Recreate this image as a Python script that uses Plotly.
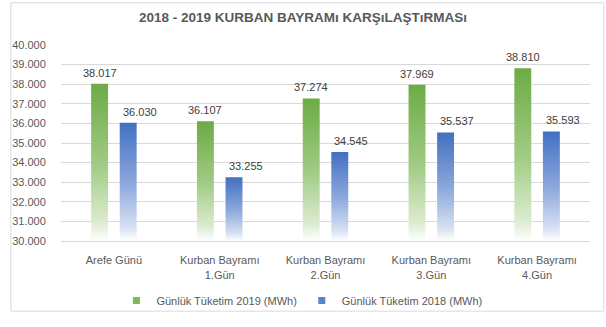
import plotly.graph_objects as go

categories = ["Arefe Günü", "Kurban Bayramı<br>1.Gün", "Kurban Bayramı<br>2.Gün",
              "Kurban Bayramı<br>3.Gün", "Kurban Bayramı<br>4.Gün"]
values_2019 = [38017, 36107, 37274, 37969, 38810]
values_2018 = [36030, 33255, 34545, 35537, 35593]
series_names = ["Günlük Tüketim 2019 (MWh)", "Günlük Tüketim 2018 (MWh)"]
y_ticks = [30000, 31000, 32000, 33000, 34000, 35000, 36000, 37000, 38000, 39000, 40000]

BASE = 30000
W, H = 606, 327
ML, MR, MT, MB = 52, 16, 45, 78
bar_w = 0.16
offsets = [-0.215, 0.055]
label_dx = [0.0, 0.11]
colorscales = [
    [[0, "#ffffff"], [0.12, "#dcebd0"], [0.5, "#9fca82"], [1, "#6cab45"]],
    [[0, "#ffffff"], [0.12, "#d6e0f2"], [0.5, "#8aa6dc"], [1, "#4270c2"]],
]
legend_colors = ["#7fb85a", "#5a82cb"]
text_col = "#595959"

fig = go.Figure()
for s, vals in enumerate([values_2019, values_2018]):
    for i, v in enumerate(vals):
        x0 = i + offsets[s]
        x1 = x0 + bar_w
        fig.add_trace(go.Scatter(
            x=[x0, x1, x1, x0, x0], y=[BASE, BASE, v, v, BASE],
            mode="lines", fill="toself", line=dict(width=0),
            fillcolor=legend_colors[s],
            fillgradient=dict(type="vertical", colorscale=colorscales[s], start=BASE, stop=v),
            hoverinfo="skip", showlegend=False, legendgroup=str(s), name=series_names[s],
        ))
    # legend entry
    fig.add_trace(go.Scatter(x=[None], y=[None], name=series_names[s], mode="markers",
                             marker=dict(color=legend_colors[s], symbol="square", size=7),
                             legendgroup=str(s)))
    for i, v in enumerate(vals):
        fig.add_annotation(x=i + offsets[s] + bar_w / 2 + label_dx[s], y=v,
                           text=f"{v:,}".replace(",", "."), showarrow=False,
                           yanchor="bottom", yshift=3,
                           font=dict(size=11, color="#404040"))

fig.update_layout(
    width=W, height=H,
    margin=dict(l=ML, r=MR, t=MT, b=MB),
    paper_bgcolor="white", plot_bgcolor="white",
    separators=",.",
    font=dict(family="Liberation Sans, Arial, sans-serif", size=11, color=text_col),
    title=dict(text="2018 - 2019 KURBAN BAYRAMı KARŞıLAŞTıRMASı",
               x=0.5, xanchor="center", y=1 - 17 / H, yanchor="middle",
               font=dict(size=13.5, color=text_col, weight="bold")),
    xaxis=dict(range=[-0.5, 4.5], tickvals=list(range(len(categories))), ticktext=categories,
               showgrid=False, zeroline=False, showline=True, linecolor="#d9d9d9",
               ticks="outside", ticklen=9, tickcolor="rgba(0,0,0,0)",
               tickfont=dict(size=11, color=text_col), fixedrange=True),
    yaxis=dict(range=[BASE, 40000], tickvals=y_ticks, tickformat=",.0f",
               showgrid=True, gridcolor="#d9d9d9", gridwidth=1, zeroline=False,
               showline=False, ticks="outside", ticklen=12, tickcolor="rgba(0,0,0,0)",
               tickfont=dict(size=11, color=text_col), fixedrange=True),
    legend=dict(orientation="h", x=(297 - ML) / (W - ML - MR), xanchor="center",
                y=(H - MB - 311) / (H - MT - MB), yanchor="middle",
                font=dict(size=11, color=text_col), itemwidth=30,
                traceorder="normal", bgcolor="rgba(0,0,0,0)"),
    showlegend=True,
)

# light grey chart border
pw, ph = W - ML - MR, H - MT - MB
fig.add_shape(type="rect", xref="paper", yref="paper",
              x0=(1 - ML) / pw, x1=(W - 2 - ML) / pw,
              y0=(H - MB - (H - 5)) / ph, y1=(H - MB - 1) / ph,
              line=dict(color="#d9d9d9", width=1), fillcolor="rgba(0,0,0,0)", layer="below")

fig.write_html("out.html")
